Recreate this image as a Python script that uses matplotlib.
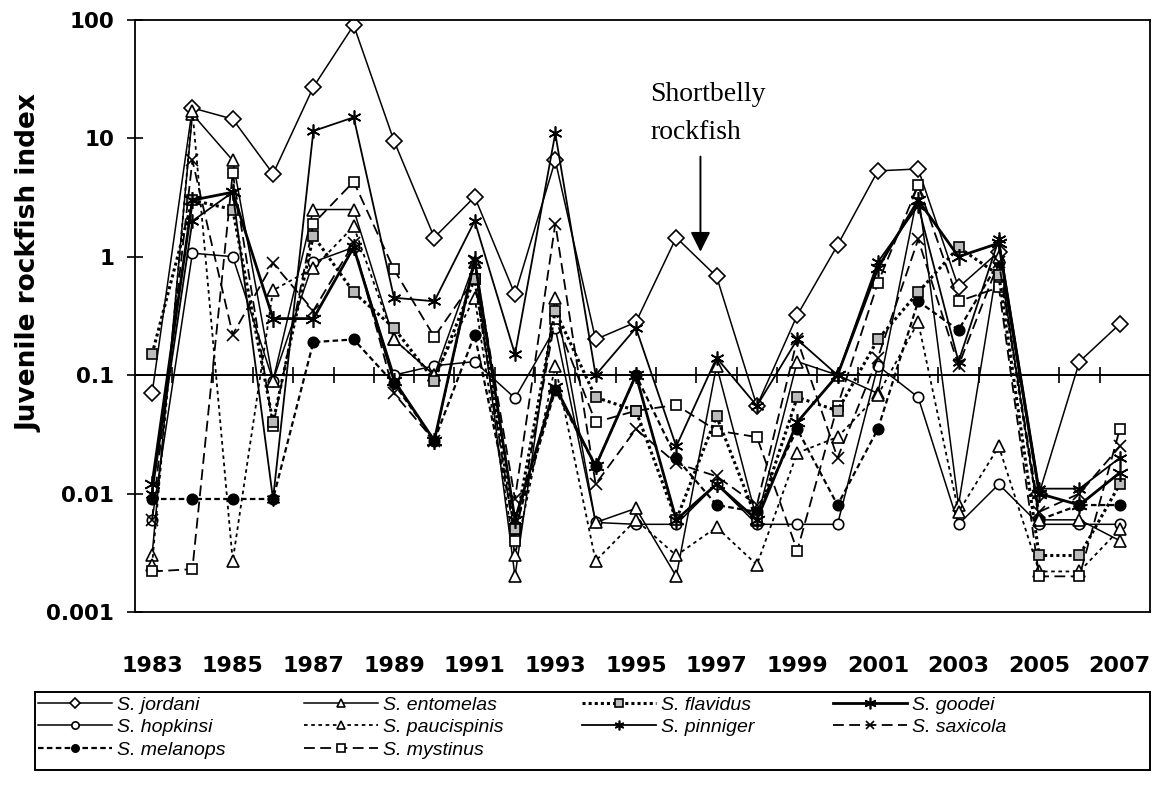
import numpy as np
import matplotlib.pyplot as plt
from matplotlib.patches import Rectangle

plt.rcParams["font.family"] = ["Liberation Sans", "DejaVu Sans"]

years = list(range(1983, 2008))
label_years = list(range(1983, 2008, 2))

jordani = [0.07, 18, 14.5, 5, 27, 90, 9.5, 1.45, 3.2, 0.48, 6.5, 0.2, 0.28, 1.45, 0.68, 0.055, 0.32, 1.25, 5.3, 5.5, 0.55, 1.1, 0.01, 0.13, 0.27]
entomelas = [0.003, 16, 6.5, 0.09, 2.5, 2.5, 0.2, 0.1, 0.9, 0.002, 0.45, 0.0057, 0.0075, 0.002, 0.12, 0.006, 0.13, 0.1, 0.07, 3.5, 0.008, 1.0, 0.006, 0.006, 0.004]
flavidus = [0.15, 3.0, 2.5, 0.04, 1.5, 0.5, 0.25, 0.09, 0.65, 0.005, 0.35, 0.065, 0.05, 0.006, 0.045, 0.006, 0.065, 0.05, 0.2, 0.5, 1.2, 0.7, 0.003, 0.003, 0.012]
goodei = [0.012, 3.0, 3.5, 0.3, 0.3, 1.2, 0.09, 0.028, 0.95, 0.006, 0.08, 0.017, 0.1, 0.006, 0.012, 0.006, 0.04, 0.1, 0.8, 3.0, 1.0, 1.3, 0.01, 0.008, 0.015]
hopkinsi = [0.006, 1.07, 1.0, 0.09, 0.9, 1.2, 0.1, 0.12, 0.13, 0.064, 0.25, 0.0057, 0.0055, 0.0055, 0.012, 0.0055, 0.0055, 0.0055, 0.12, 0.065, 0.0055, 0.012, 0.0055, 0.0055, 0.0055]
paucispinis = [0.0025, 17, 0.0027, 0.52, 0.8, 1.8, 0.2, 0.1, 0.45, 0.003, 0.12, 0.0027, 0.006, 0.003, 0.0052, 0.0025, 0.022, 0.03, 0.068, 0.28, 0.007, 0.025, 0.0022, 0.0022, 0.005]
pinniger = [0.01, 2.0, 3.5, 0.009, 11.5, 15, 0.45, 0.42, 2.0, 0.15, 11, 0.1, 0.25, 0.025, 0.14, 0.055, 0.2, 0.1, 0.9, 2.7, 0.13, 1.4, 0.011, 0.011, 0.02]
saxicola = [0.006, 6.5, 0.22, 0.88, 0.35, 1.3, 0.07, 0.028, 0.9, 0.009, 1.9, 0.012, 0.035, 0.018, 0.014, 0.008, 0.2, 0.02, 0.14, 1.4, 0.12, 0.9, 0.007, 0.01, 0.025]
melanops = [0.009, 0.009, 0.009, 0.009, 0.19, 0.2, 0.085, 0.028, 0.22, 0.005, 0.075, 0.017, 0.1, 0.02, 0.008, 0.007, 0.035, 0.008, 0.035, 0.42, 0.24, 0.9, 0.006, 0.008, 0.008]
mystinus = [0.0022, 0.0023, 5.1, 0.037, 1.9, 4.3, 0.78, 0.21, 0.65, 0.004, 0.3, 0.04, 0.05, 0.056, 0.034, 0.03, 0.0033, 0.055, 0.6, 4.0, 0.42, 0.55, 0.002, 0.002, 0.035]

fig = plt.figure(figsize=(11.55, 7.9), dpi=100)
ax = fig.add_axes([0.117, 0.2253, 0.8787, 0.7497])

# (label, values, linestyle, linewidth, marker, markersize, facecolor)
series = [
    ("S. jordani", jordani, "-", 1.1, "D", 8, "white"),
    ("S. hopkinsi", hopkinsi, "-", 1.1, "o", 7.5, "white"),
    ("S. melanops", melanops, (0, (2.5, 1.5)), 1.6, "o", 7.5, "black"),
    ("S. entomelas", entomelas, "-", 1.1, "^", 8.5, "white"),
    ("S. paucispinis", paucispinis, (0, (2, 2)), 1.3, "^", 8.5, "white"),
    ("S. mystinus", mystinus, (0, (6, 3)), 1.3, "s", 7.5, "white"),
    ("S. flavidus", flavidus, (0, (1, 1)), 2.2, "s", 7.5, "#bbbbbb"),
    ("S. pinniger", pinniger, "-", 1.3, (6, 2, 0), 10, "black"),
    ("S. goodei", goodei, "-", 2.0, (6, 2, 0), 12, "black"),
    ("S. saxicola", saxicola, (0, (6, 3)), 1.3, "x", 9, "black"),
]

for lab, vals, ls, lw, mk, ms, fc in series:
    ax.plot(years, vals, color="black", linestyle=ls, linewidth=lw, marker=mk,
            markersize=ms, markerfacecolor=fc, markeredgecolor="black",
            markeredgewidth=1.2, label=lab, dash_capstyle="butt")

ax.set_yscale("log")
ax.set_ylim(0.001, 100)
ax.set_xlim(1982.58, 2007.75)

# category axis crossing at 0.1, with ticks between categories
ax.axhline(0.1, color="black", linewidth=1.4, zorder=1)
bounds = np.arange(1983.5, 2007.5, 1.0)
ax.vlines(bounds, 0.1 / 1.17, 0.1 * 1.17, color="black", linewidth=1.2, zorder=1)

bold = {"family": "DejaVu Sans", "weight": "bold"}
ax.set_yticks([0.001, 0.01, 0.1, 1, 10, 100])
ax.set_yticklabels(["0.001", "0.01", "0.1", "1", "10", "100"], fontdict=dict(bold, size=15.5))
ax.minorticks_off()
ax.tick_params(axis="y", direction="inout", length=12, width=1.2, pad=9)
ax.set_xticks(label_years)
ax.set_xticklabels([str(y) for y in label_years], fontdict=dict(bold, size=16))
ax.tick_params(axis="x", length=0, pad=32)

for sp in ax.spines.values():
    sp.set_linewidth(1.3)

ax.set_ylabel("Juvenile rockfish index", fontdict=dict(bold, size=19))
ax.yaxis.set_label_coords(-0.091, 0.59)

ax.annotate("", xy=(1996.6, 1.1), xytext=(1996.6, 7.0),
            arrowprops=dict(arrowstyle="-|>", color="black", lw=1.4,
                            mutation_scale=30, shrinkA=0, shrinkB=0))
ax.text(1995.35, 30, "Shortbelly\nrockfish", family="Liberation Serif",
        fontsize=20, ha="left", va="top", linespacing=1.72)

# legend frame spans the full width, entries packed to the left
fig.patches.append(Rectangle((0.0303, 0.0253), 0.9654, 0.0987, transform=fig.transFigure,
                             fill=False, edgecolor="black", linewidth=1.4))
leg = fig.legend(loc="upper left", bbox_to_anchor=(0.031, 0.121), ncol=4,
                 prop={"family": "Liberation Sans", "style": "italic", "size": 14},
                 handlelength=3.8, labelspacing=0.24, borderaxespad=0,
                 markerscale=0.7, frameon=False, borderpad=0.1,
                 handletextpad=0.3, columnspacing=4.0)

plt.savefig("out.png", dpi=100)
